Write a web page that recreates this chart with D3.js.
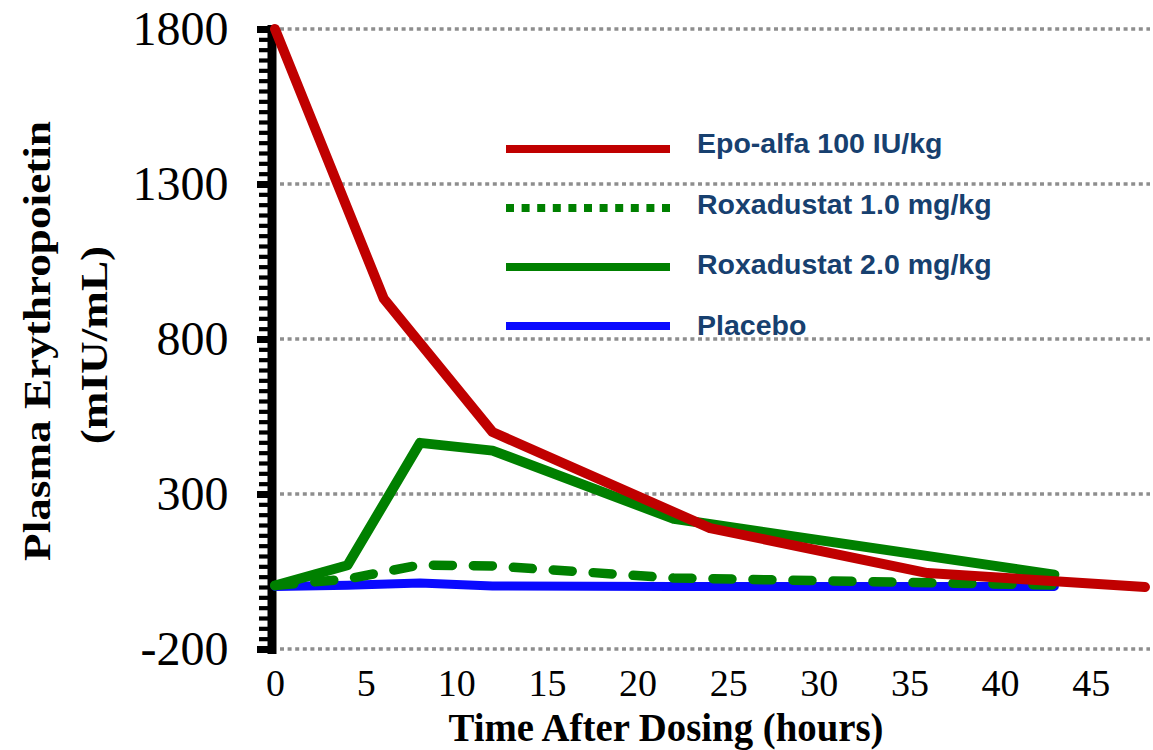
<!DOCTYPE html>
<html>
<head>
<meta charset="utf-8">
<script src="https://cdn.jsdelivr.net/npm/d3@7/dist/d3.min.js"></script>
<style>
  html, body { margin: 0; padding: 0; background: #ffffff; }
  svg { display: block; }
</style>
</head>
<body>
<svg id="chart" width="1153" height="750"></svg>
<script>
// Plasma erythropoietin after a single dose
const epoHours = [0, 6, 12, 24, 36, 48];
const epoValues = [1800, 930, 500, 190, 45, 0];

const roxHours = [0, 4, 8, 12, 22, 43];
const rox1Values = [5, 26, 71, 68, 29, 6];
const rox2Values = [5, 70, 465, 440, 220, 40];
const placeboValues = [2, 6, 13, 3, 2, 2];

const seriesNames = ["Epo-alfa 100 IU/kg", "Roxadustat 1.0 mg/kg", "Roxadustat 2.0 mg/kg", "Placebo"];
const yTickValues = [-200, 300, 800, 1300, 1800];
const xTickValues = [0, 5, 10, 15, 20, 25, 30, 35, 40, 45];

const svg = d3.select("#chart");

const x = d3.scaleLinear().domain([0, 48]).range([275, 1145]);
const y = d3.scaleLinear().domain([-200, 1800]).range([649, 29]);

// dotted horizontal gridlines
svg.append("g")
  .selectAll("line")
  .data(yTickValues)
  .join("line")
  .attr("x1", 280).attr("x2", 1150)
  .attr("y1", d => y(d)).attr("y2", d => y(d))
  .attr("stroke", "#8e8e8e")
  .attr("stroke-width", 3.5)
  .attr("stroke-dasharray", "4,3.6");

// y axis: thick bar with a comb of minor ticks
const axisX = 271.5;
const minorTicks = d3.range(-200, 1800.01, 100 / 3);

const yMinor = svg.append("g").attr("transform", `translate(${axisX},0)`)
  .call(d3.axisLeft(y).tickValues(minorTicks).tickSize(12.5).tickFormat(""));
yMinor.select(".domain").remove();
yMinor.selectAll(".tick line").attr("stroke", "#000").attr("stroke-width", 4.2);

const yMajor = svg.append("g").attr("transform", `translate(${axisX},0)`)
  .call(d3.axisLeft(y).tickValues(yTickValues).tickSize(14.5).tickSizeOuter(0).tickFormat(""));
yMajor.select(".domain")
  .attr("stroke", "#000").attr("stroke-width", 9).attr("stroke-linecap", "square");
yMajor.selectAll(".tick line").attr("stroke", "#000").attr("stroke-width", 7);

const yLabels = svg.append("g").attr("transform", `translate(${axisX},0)`)
  .call(d3.axisLeft(y).tickValues(yTickValues).tickSize(0).tickPadding(43)
    .tickFormat(d => String(d)));
yLabels.select(".domain").remove();
yLabels.selectAll(".tick text")
  .attr("font-family", "'Liberation Serif', 'Times New Roman', serif")
  .attr("font-size", 48)
  .attr("fill", "#000");

// x axis labels only
const xLabels = svg.append("g").attr("transform", `translate(0,${y(-200)})`)
  .call(d3.axisBottom(x).tickValues(xTickValues).tickSize(0).tickPadding(20));
xLabels.select(".domain").remove();
xLabels.selectAll(".tick text")
  .attr("font-family", "'Liberation Serif', 'Times New Roman', serif")
  .attr("font-size", 38)
  .attr("fill", "#000");

// axis titles
svg.append("text")
  .attr("transform", "translate(666,741) scale(0.97,1)")
  .attr("text-anchor", "middle")
  .attr("font-family", "'Liberation Serif', 'Times New Roman', serif")
  .attr("font-weight", "bold")
  .attr("font-size", 40)
  .text("Time After Dosing (hours)");

svg.append("text")
  .attr("transform", "translate(50,341) rotate(-90) scale(1.19,1)")
  .attr("text-anchor", "middle")
  .attr("font-family", "'Liberation Serif', 'Times New Roman', serif")
  .attr("font-weight", "bold")
  .attr("font-size", 38)
  .text("Plasma Erythropoietin");

svg.append("text")
  .attr("transform", "translate(107,345) rotate(-90) scale(1.19,1)")
  .attr("text-anchor", "middle")
  .attr("font-family", "'Liberation Serif', 'Times New Roman', serif")
  .attr("font-weight", "bold")
  .attr("font-size", 38)
  .text("(mIU/mL)");

// series lines
const line = d3.line().x(d => x(d[0])).y(d => y(d[1]));
const zipSeries = (hrs, vals) => hrs.map((h, i) => [h, vals[i]]);

const series = [
  { data: zipSeries(roxHours, placeboValues), color: "#0a0aff", width: 9, dash: null },
  { data: zipSeries(roxHours, rox1Values), color: "#008000", width: 9.5, dash: "19,21" },
  { data: zipSeries(roxHours, rox2Values), color: "#008000", width: 10, dash: null },
  { data: zipSeries(epoHours, epoValues), color: "#c00000", width: 10, dash: null }
];

svg.append("g")
  .selectAll("path")
  .data(series)
  .join("path")
  .attr("d", d => line(d.data))
  .attr("fill", "none")
  .attr("stroke", d => d.color)
  .attr("stroke-width", d => d.width)
  .attr("stroke-linejoin", "round")
  .attr("stroke-linecap", "round")
  .attr("stroke-dasharray", d => d.dash);

// legend
const legendItems = [
  { name: seriesNames[0], color: "#c00000", dash: null },
  { name: seriesNames[1], color: "#008000", dash: "8,7.6" },
  { name: seriesNames[2], color: "#008000", dash: null },
  { name: seriesNames[3], color: "#0a0aff", dash: null }
];

const legend = svg.append("g");

legend.selectAll("line")
  .data(legendItems)
  .join("line")
  .attr("x1", 506).attr("x2", 670)
  .attr("y1", (d, i) => 149 + i * 59)
  .attr("y2", (d, i) => 149 + i * 59)
  .attr("stroke", d => d.color)
  .attr("stroke-width", 8)
  .attr("stroke-dasharray", d => d.dash);

legend.selectAll("text")
  .data(legendItems)
  .join("text")
  .attr("x", 697)
  .attr("y", (d, i) => 153 + i * 60.7)
  .attr("font-family", "'Liberation Sans', Arial, sans-serif")
  .attr("font-weight", "bold")
  .attr("font-size", 28.5)
  .attr("fill", "#17406f")
  .text(d => d.name);
</script>
</body>
</html>
